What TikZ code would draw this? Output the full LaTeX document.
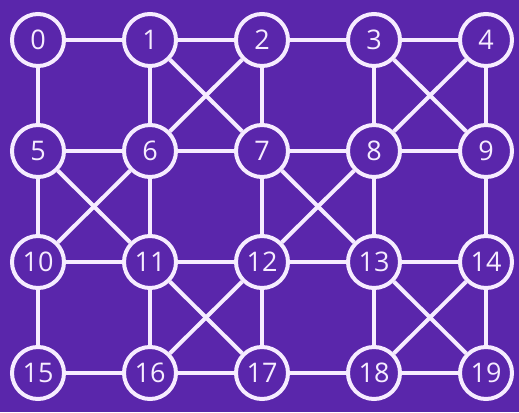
\documentclass[tikz,border=0pt]{standalone}
\usepackage{fontspec}
\setmainfont{Open Sans}
\definecolor{bg}{HTML}{5A26AB}
\definecolor{fg}{HTML}{F6ECFF}
\begin{document}
\begin{tikzpicture}[x=1pt,y=1pt,
  vtx/.style={circle,draw=fg,line width=4pt,minimum size=52pt,inner sep=0pt,text=fg,font=\fontsize{27}{27}\selectfont},
  edge/.style={draw=fg,line width=4pt}]
\fill[bg] (0,0) rectangle (519,412);
\useasboundingbox (0,0) rectangle (519,412);
\foreach \r in {0,1,2,3}{
  \foreach \c in {0,1,2,3,4}{
    \pgfmathtruncatemacro{\n}{\r*5+\c}
    \node[vtx] (n\n) at ({38+112*\c},{412-40-111*\r}) {\n};
  }
}
\foreach \a/\b in {0/1,1/2,2/3,3/4,5/6,6/7,7/8,8/9,10/11,11/12,12/13,13/14,15/16,16/17,17/18,18/19,
  0/5,5/10,10/15,1/6,6/11,11/16,2/7,7/12,12/17,3/8,8/13,13/18,4/9,9/14,14/19,
  1/7,2/6,3/9,4/8,5/11,6/10,7/13,8/12,11/17,12/16,13/19,14/18}
  \draw[edge] (n\a) -- (n\b);
\end{tikzpicture}
\end{document}
